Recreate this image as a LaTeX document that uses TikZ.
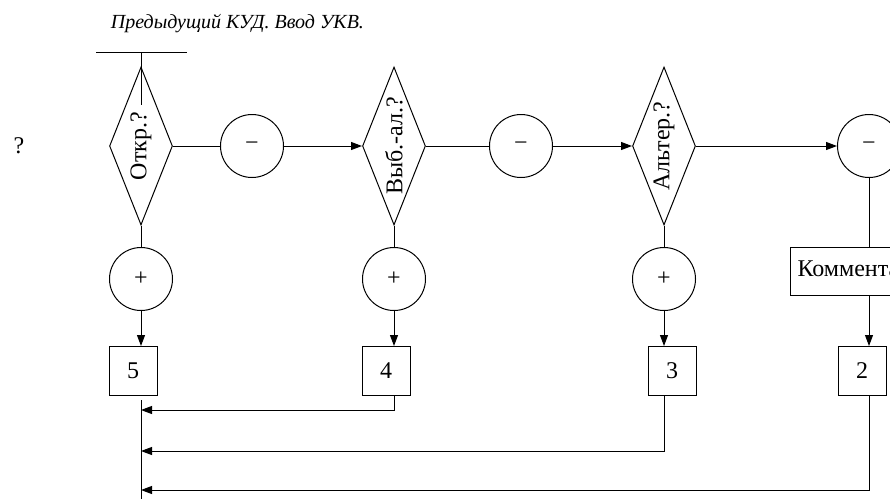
\documentclass[tikz,border=0pt]{standalone}
\usepackage{fontspec}
\setmainfont{Liberation Serif}
\usetikzlibrary{shapes.geometric,arrows.meta}

\tikzset{
	ask/.style={draw,diamond,inner sep=0pt,shape aspect=0.4,minimum width=63pt,minimum height=158pt},
	sign/.style={draw,circle,inner sep=0pt,minimum size=63pt},
	num/.style={draw,rectangle,inner sep=0pt,minimum width=48pt,minimum height=49pt}
}

\begin{document}
\begin{tikzpicture}[x=1pt,y=-1pt,line width=1pt,>={Triangle[length=11pt,width=8pt]},font=\fontsize{24}{28}\selectfont]
			\useasboundingbox (0,0) rectangle (890,499);
			\clip (0,0) rectangle (890,499);
		
			\node[anchor=base west,font=\fontsize{20}{24}\selectfont\itshape] (title) at (107,28) {Предыдущий КУД. Ввод УКВ.};
			\node (mark) at (19,146) {?};
		
			\coordinate (barL) at (96,52);
			\coordinate (barR) at (187,52);
			\coordinate (barM) at (141,52);
			\coordinate (stub) at (141,105);
		
			\node[ask] (q1) at (141,146) {\rotatebox{90}{Откр.?}};
			\node[ask] (q2) at (394,146) {\rotatebox{90}{Выб.-ал.?}};
			\node[ask] (q3) at (664,146) {\rotatebox{90}{Альтер.?}};
		
			\node[sign] (n1) at (252,146) {−};
			\node[sign] (n2) at (521,146) {−};
			\node[sign] (n3) at (869,146) {−};
		
			\node[sign] (y1) at (141,279) {+};
			\node[sign] (y2) at (394,279) {+};
			\node[sign] (y3) at (664,279) {+};
		
			\node[draw,anchor=west,inner xsep=7pt,minimum height=48pt] (note) at (790,271) {Комментарий};
		
			\node[num] (b5) at (133,371) {5};
			\node[num] (b4) at (386,371) {4};
			\node[num] (b3) at (672,371) {3};
			\node[num] (b2) at (862,371) {2};
		
			\coordinate (busT) at (141,400);
			\coordinate (busB) at (141,499);
			\coordinate (r4) at (141,410);
			\coordinate (r3) at (141,451);
			\coordinate (r2) at (141,490);
		
			\draw (barL) -- (barR);
			\draw (barM) -- (stub);
		
			\draw (q1) -- (n1);
			\draw[->] (n1) -- (q2);
			\draw (q2) -- (n2);
			\draw[->] (n2) -- (q3);
			\draw[->] (q3) -- (n3);
		
			\draw (q1) -- (y1);
			\draw (q2) -- (y2);
			\draw (q3) -- (y3);
			\draw (n3) -- (n3 |- note.north);
		
			\draw[->] (y1) -- (y1 |- b5.north);
			\draw[->] (y2) -- (y2 |- b4.north);
			\draw[->] (y3) -- (y3 |- b3.north);
			\draw[->] (n3 |- note.south) -- (n3 |- b2.north);
		
			\draw (busT) -- (busB);
			\draw[->] (y2 |- b4.south) |- (r4);
			\draw[->] (y3 |- b3.south) |- (r3);
			\draw[->] (n3 |- b2.south) |- (r2);
		\end{tikzpicture}
\end{document}
